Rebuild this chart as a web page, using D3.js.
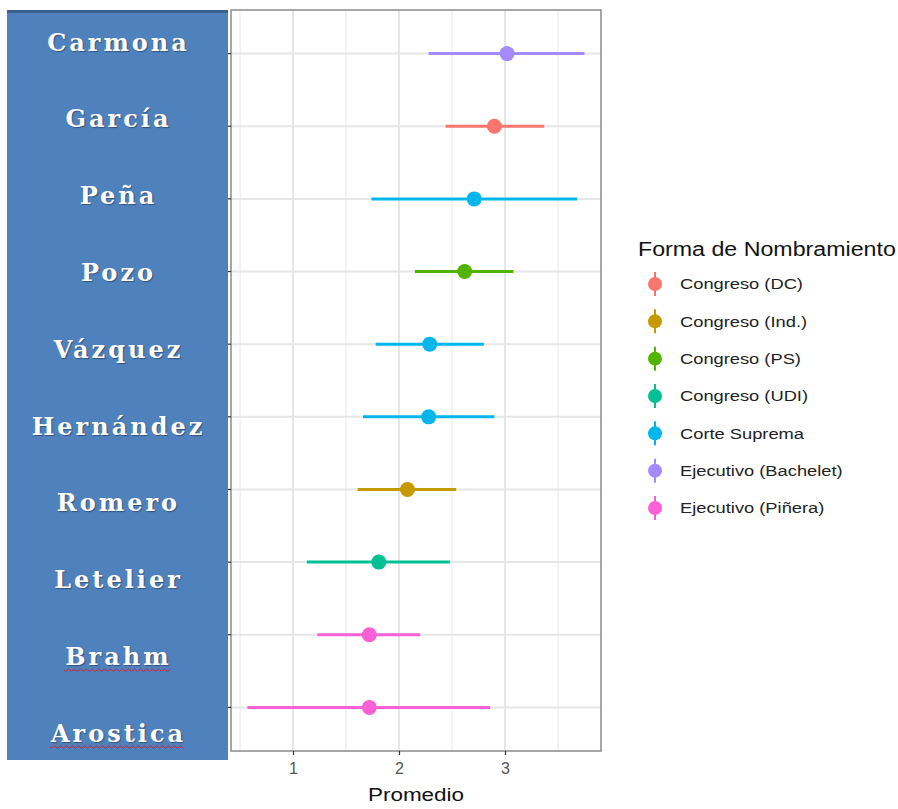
<!DOCTYPE html>
<html><head><meta charset="utf-8">
<script src="https://cdn.jsdelivr.net/npm/d3@7"></script>
<style>body{margin:0;background:#fff}svg{display:block}</style>
</head><body><svg id="c" width="898" height="809"></svg>
<script>
const judges = ["Carmona","García","Peña","Pozo","Vázquez","Hernández","Romero","Letelier","Brahm","Arostica"];
const groupOf = ["Ejecutivo (Bachelet)","Congreso (DC)","Corte Suprema","Congreso (PS)","Corte Suprema","Corte Suprema","Congreso (Ind.)","Congreso (UDI)","Ejecutivo (Piñera)","Ejecutivo (Piñera)"];
const means = [3.02,2.90,2.71,2.62,2.29,2.28,2.08,1.81,1.72,1.72];
const lows  = [2.28,2.44,1.74,2.15,1.78,1.66,1.61,1.13,1.23,0.57];
const highs = [3.75,3.37,3.68,3.08,2.80,2.90,2.54,2.48,2.20,2.86];
const groups = ["Congreso (DC)","Congreso (Ind.)","Congreso (PS)","Congreso (UDI)","Corte Suprema","Ejecutivo (Bachelet)","Ejecutivo (Piñera)"];
const groupColors = ["#F8766D","#C49A00","#53B400","#00C094","#00B6EB","#A58AFF","#FB61D7"];
const xTicks = [1,2,3];
const xMinor = [0.5,1.5,2.5,3.5];

const SANS = "'Liberation Sans', Arial, sans-serif";
const svg = d3.select("#c");
const P = {l:231, r:601, t:10, b:751};
const x = d3.scaleLinear().domain([0.415,3.906]).range([P.l,P.r]);
const y = d3.scalePoint().domain(judges).range([P.t,P.b]).padding(0.6);
const color = d3.scaleOrdinal().domain(groups).range(groupColors);

// blue label box
svg.append("rect").attr("x",7).attr("y",10).attr("width",221).attr("height",750).attr("fill","#4F81BD");
svg.append("rect").attr("x",7).attr("y",10).attr("width",221).attr("height",3).attr("fill","#3A5F8C");
const yLab = d3.scalePoint().domain(judges).range([42,733]);
svg.append("g").selectAll("text").data(judges).join("text")
  .attr("x",118.5).attr("y",d=>yLab(d)).attr("dy","0.36em")
  .attr("text-anchor","middle").attr("fill","#fff")
  .style("font-family","'DejaVu Serif', serif").style("font-weight","bold")
  .style("font-size","24px").style("letter-spacing","3px")
  .style("text-shadow","1px 1px 1px rgba(0,0,0,0.35)")
  .text(d=>d);
// spell-check squiggles
["Brahm","Arostica"].forEach(n=>{
  const w = n==="Brahm"?106:134;
  const x0 = 117 - w/2, yy = yLab(n)+14;
  let dStr = `M${x0},${yy}`;
  for(let i=0;i<w;i+=3){dStr += ` L${x0+i+1.5},${yy+(i/3%2?-1.2:1.2)}`;}
  svg.append("path").attr("d",dStr).attr("fill","none").attr("stroke","#d0223a").attr("stroke-width",1);
});

// panel
const g = svg.append("g");
g.append("rect").attr("x",P.l).attr("y",P.t).attr("width",P.r-P.l).attr("height",P.b-P.t).attr("fill","#fff");
g.selectAll(".mn").data(xMinor).join("line").attr("x1",d=>x(d)).attr("x2",d=>x(d)).attr("y1",P.t).attr("y2",P.b)
  .attr("stroke","#F0F0F0").attr("stroke-width",1.5);
g.selectAll(".mj").data(xTicks).join("line").attr("x1",d=>x(d)).attr("x2",d=>x(d)).attr("y1",P.t).attr("y2",P.b)
  .attr("stroke","#E6E6E6").attr("stroke-width",2);
g.selectAll(".hy").data(judges).join("line").attr("x1",P.l).attr("x2",P.r).attr("y1",d=>y(d)).attr("y2",d=>y(d))
  .attr("stroke","#E6E6E6").attr("stroke-width",2);

const data = judges.map((j,i)=>({j, g:groupOf[i], m:means[i], lo:lows[i], hi:highs[i]}));
g.selectAll(".eb").data(data).join("line").attr("x1",d=>x(d.lo)).attr("x2",d=>x(d.hi))
  .attr("y1",d=>y(d.j)).attr("y2",d=>y(d.j)).attr("stroke",d=>color(d.g)).attr("stroke-width",3);
g.selectAll(".pt").data(data).join("circle").attr("cx",d=>x(d.m)).attr("cy",d=>y(d.j)).attr("r",7.5)
  .attr("fill",d=>color(d.g));
g.append("rect").attr("x",P.l).attr("y",P.t).attr("width",P.r-P.l).attr("height",P.b-P.t)
  .attr("fill","none").attr("stroke","#8a8a8a").attr("stroke-width",1.5);

// y ticks
g.selectAll(".yt").data(judges).join("line").attr("x1",P.l-3).attr("x2",P.l).attr("y1",d=>y(d)).attr("y2",d=>y(d))
  .attr("stroke","#333").attr("stroke-width",1.2);

// x axis
const xa = svg.append("g").attr("transform",`translate(0,${P.b})`)
  .call(d3.axisBottom(x).tickValues(xTicks).tickSize(4).tickPadding(8).tickFormat(d3.format("d")));
xa.select(".domain").remove();
xa.selectAll(".tick line").attr("stroke","#333").attr("stroke-width",1.2);
xa.selectAll("text").attr("fill","#555").style("font-family",SANS).style("font-size","16px");
svg.append("text").attr("transform",`translate(${(P.l+P.r)/2},801) scale(1.25,1)`).attr("text-anchor","middle")
  .style("font-family",SANS).style("font-size","18px").attr("fill","#111").text("Promedio");

// legend
const L = svg.append("g");
L.append("text").attr("transform","translate(638,256) scale(1.19,1)").style("font-family",SANS)
  .style("font-size","19.5px").attr("fill","#111").text("Forma de Nombramiento");
const ly = d3.scalePoint().domain(groups).range([284,508]);
const it = L.selectAll(".li").data(groups).join("g").attr("transform",d=>`translate(0,${ly(d)})`);
it.append("line").attr("x1",655).attr("x2",655).attr("y1",-12).attr("y2",12).attr("stroke",d=>color(d)).attr("stroke-width",2);
it.append("circle").attr("cx",655).attr("cy",0).attr("r",7).attr("fill",d=>color(d));
it.append("text").attr("transform","translate(680,0) scale(1.22,1)").attr("dy","0.36em").style("font-family",SANS)
  .style("font-size","15px").attr("fill","#222").text(d=>d);
</script></body></html>
